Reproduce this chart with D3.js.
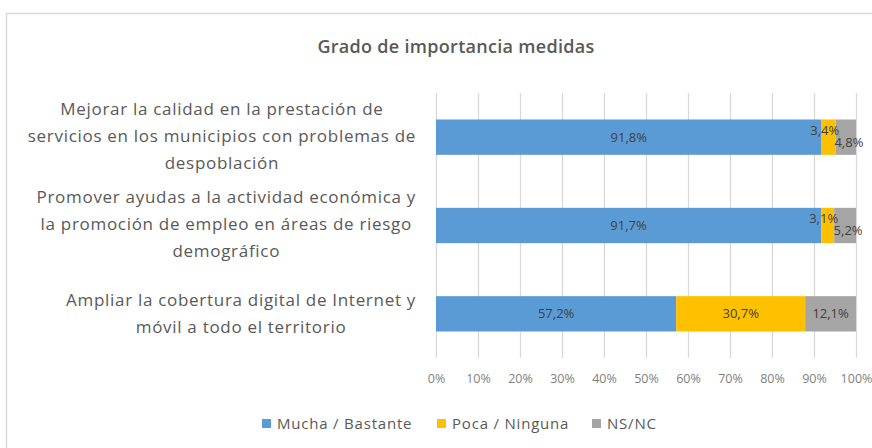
<!DOCTYPE html>
<html><head><meta charset="utf-8">
<script src="https://cdn.jsdelivr.net/npm/d3@7"></script>
<style>body{margin:0;background:#fff;} svg{display:block;font-family:"Open Sans",sans-serif;}</style>
</head><body><svg id="c" width="872" height="448"></svg>
<script>
const title = "Grado de importancia medidas";
const categories = [
  ["Mejorar la calidad en la prestación de", "servicios en los municipios con problemas de", "despoblación"],
  ["Promover ayudas a la actividad económica y", "la promoción de empleo en áreas de riesgo", "demográfico"],
  ["Ampliar la cobertura digital de Internet y", "móvil a todo el territorio"]
];
const seriesNames = ["Mucha / Bastante", "Poca / Ninguna", "NS/NC"];
const mucha = [91.8, 91.7, 57.2];
const poca = [3.4, 3.1, 30.7];
const nsnc = [4.8, 5.2, 12.1];
const ticks = [0,10,20,30,40,50,60,70,80,90,100];
const colors = ["#5B9BD5", "#FFC000", "#A5A5A5"];

const svg = d3.select("#c");
svg.append("rect").attr("x",6.5).attr("y",13.5).attr("width",900).attr("height",500)
  .attr("fill","#fff").attr("stroke","#D9D9D9").attr("stroke-width",1.5);

svg.append("text").attr("x",456).attr("y",53).attr("text-anchor","middle")
  .attr("font-size",18).attr("font-weight",600).attr("letter-spacing",0.3).attr("fill","#595959").text(title);

const x = d3.scaleLinear().domain([0,100]).range([436,856]);
const y = d3.scaleBand().domain(d3.range(categories.length)).range([93,358]).paddingInner(0.6).paddingOuter(0.3);

// gridlines
svg.append("g").selectAll("line").data(ticks).join("line")
  .attr("x1",d=>x(d)+0.5).attr("x2",d=>x(d)+0.5).attr("y1",93).attr("y2",358)
  .attr("stroke","#D9D9D9").attr("stroke-width",1.3);

// axis
const ax = svg.append("g").attr("transform","translate(0,358)")
  .call(d3.axisBottom(x).tickValues(ticks).tickFormat(d=>d+"%").tickSize(0).tickPadding(16));
ax.select(".domain").remove();
ax.selectAll("text").attr("font-size",12.5).attr("fill","#7F7F7F").attr("font-family","Open Sans");

const stackData = categories.map((c,i)=>({i, v:[mucha[i],poca[i],nsnc[i]]}));
stackData.forEach(d=>{ let s=0; d.segs=d.v.map((v,k)=>{const o={k,v,x0:s,x1:s+v}; s+=v; return o;}); });

const g = svg.append("g");
stackData.forEach(d=>{
  const yy = y(d.i), h = y.bandwidth();
  g.selectAll(null).data(d.segs).join("rect")
    .attr("x",s=>x(s.x0)).attr("width",s=>x(s.x1)-x(s.x0))
    .attr("y",yy).attr("height",h).attr("fill",s=>colors[s.k]);
  let smallCount = 0;
  d.segs.forEach(s=>{
    let dy = 0, dx = 0;
    if (s.v < 8) { if (smallCount===0){dy=-7;dx=-4;} else {dy=5;dx=3;} smallCount++; }
    g.append("text").attr("x",x((s.x0+s.x1)/2)+dx).attr("y",yy+h/2+dy).attr("dy","0.35em")
      .attr("text-anchor","middle").attr("font-size",13).attr("fill","#404040")
      .text(s.v.toFixed(1).replace(".",",")+"%");
  });
});

// category labels: each block centred on its own widest line, block right-aligned near the axis
const lab = svg.append("g");
const rightEdge = 416;
categories.forEach((lines,i)=>{
  const cy = y(i)+y.bandwidth()/2;
  const lh = 27;
  const t = lab.append("text").attr("text-anchor","middle").attr("font-size",17)
    .attr("letter-spacing",0.7).attr("fill","#595959");
  const spans = lines.map((ln,j)=> t.append("tspan")
    .attr("y",cy + (j-(lines.length-1)/2)*lh - (lines.length===2?0:1)).attr("dy","0.35em").text(ln));
  const maxW = d3.max(spans, s=>s.node().getComputedTextLength());
  spans.forEach(s=>s.attr("x", rightEdge - maxW/2));
});

// legend
const legX = [262, 437, 592];
const leg = svg.append("g");
seriesNames.forEach((n,i)=>{
  leg.append("rect").attr("x",legX[i]).attr("y",419).attr("width",9).attr("height",9).attr("fill",colors[i]);
  leg.append("text").attr("x",legX[i]+15).attr("y",424).attr("dy","0.35em").attr("font-size",15)
    .attr("letter-spacing",0.8).attr("fill","#595959").text(n);
});
</script></body></html>
